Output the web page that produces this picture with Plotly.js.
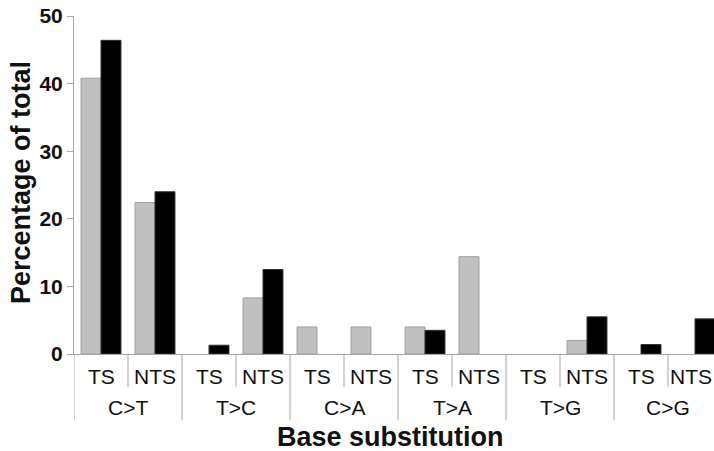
<!DOCTYPE html>
<html>
<head>
<meta charset="utf-8">
<script src="https://cdn.plot.ly/plotly-3.0.1.min.js"></script>
<style>html,body{margin:0;padding:0;background:#fff;}#chart{width:714px;height:451px;}</style>
</head>
<body>
<div id="chart"></div>
<script>
// Data
const groups = ["C>T", "T>C", "C>A", "T>A", "T>G", "C>G"];
const strands = ["TS", "NTS"];
const graySeries = [40.8, 22.4, 0, 8.3, 4.0, 4.0, 4.0, 14.4, 0, 2.0, 0, 0];
const blackSeries = [46.4, 24.0, 1.3, 12.5, 0, 0, 3.5, 0, 0, 5.5, 1.4, 5.2];
const yTicks = [0, 10, 20, 30, 40, 50];

const idx = [];
const subLabels = [];
groups.forEach((g, gi) => strands.forEach((s, si) => { idx.push(gi * 2 + si); subLabels.push(s); }));

const font = "Arial, 'Liberation Sans', sans-serif";
const axisGray = "#a6a6a6";
const txt = "#111";

const traces = [
  { type: "bar", x: idx, y: graySeries, name: "gray",
    marker: { color: "#c0c0c0", line: { color: "#a0a0a0", width: graySeries.map(v => v > 0 ? 1 : 0) } } },
  { type: "bar", x: idx, y: blackSeries, name: "black",
    marker: { color: "#000000", line: { color: "#333333", width: blackSeries.map(v => v > 0 ? 1 : 0) } } }
];

const plotH = 338, plotW = 640;
const shapes = [];
groups.forEach((g, gi) => {
  shapes.push({ type: "line", xref: "x", yref: "paper", x0: gi * 2 + 0.5, x1: gi * 2 + 0.5,
    y0: 0, y1: -33 / plotH, line: { color: axisGray, width: 1 } });
});
for (let gi = 0; gi <= groups.length; gi++) {
  shapes.push({ type: "line", xref: "x", yref: "paper", x0: gi * 2 - 0.5, x1: gi * 2 - 0.5,
    y0: 0, y1: -66 / plotH, line: { color: axisGray, width: 1 } });
}

const annotations = [];
idx.forEach((xi, i) => annotations.push({
  text: subLabels[i], xref: "x", yref: "paper", x: xi, y: -22 / plotH,
  xanchor: "center", yanchor: "middle", showarrow: false,
  xshift: i === idx.length - 1 ? -4 : 0,
  font: { family: font, size: 21, color: txt }
}));
groups.forEach((g, gi) => annotations.push({
  text: g, xref: "x", yref: "paper", x: gi * 2 + 0.5, y: -53 / plotH,
  xanchor: "center", yanchor: "middle", showarrow: false,
  font: { family: font, size: 21, color: txt }
}));
annotations.push({
  text: "Base substitution", xref: "paper", yref: "paper", x: (390 - 74) / plotW, y: -83 / plotH,
  xanchor: "center", yanchor: "middle", showarrow: false,
  font: { family: font, size: 27, color: txt, weight: "bold" }
});
annotations.push({
  text: "Percentage of total", xref: "paper", yref: "paper", x: (21 - 74) / plotW, y: (354 - 183) / plotH,
  xanchor: "center", yanchor: "middle", textangle: -90, showarrow: false,
  font: { family: font, size: 27, color: txt, weight: "bold" }
});

const layout = {
  width: 714, height: 451,
  margin: { l: 74, r: 0, t: 16, b: 97 },
  paper_bgcolor: "#fff", plot_bgcolor: "#fff",
  showlegend: false,
  barmode: "group", bargap: 0.26, bargroupgap: 0,
  xaxis: {
    range: [-0.5, -0.5 + plotW / 54],
    showticklabels: false,
    ticks: "", showgrid: false, zeroline: false,
    showline: true, linecolor: axisGray, linewidth: 1,
    fixedrange: true
  },
  yaxis: {
    range: [0, 50], tickmode: "array", tickvals: yTicks,
    ticks: "outside", ticklen: 6, tickcolor: axisGray, tickwidth: 1,
    showgrid: false, zeroline: false,
    showline: true, linecolor: axisGray, linewidth: 1,
    tickfont: { family: font, size: 21, color: txt, weight: "bold" },
    fixedrange: true
  },
  shapes: shapes,
  annotations: annotations
};

Plotly.newPlot("chart", traces, layout, { displayModeBar: false, staticPlot: true });
</script>
</body>
</html>
